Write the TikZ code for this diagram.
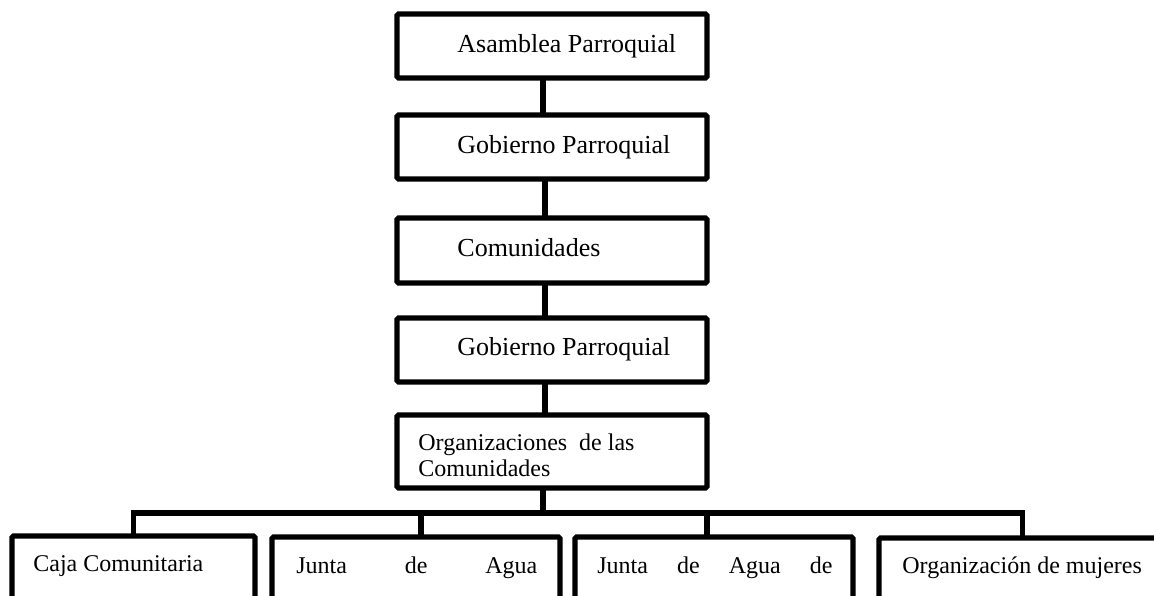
\documentclass[tikz,border=0pt]{standalone}
\usepackage{fontspec}
\setmainfont{Liberation Serif}
\usetikzlibrary{positioning}

\begin{document}
\begin{tikzpicture}[x=0.5pt,y=-0.5pt,
    recuadro/.style={draw, line width=2.6pt, rounded corners=0.8pt, inner sep=0pt, outer sep=0pt,
        anchor=north west, minimum width=155pt},
    unidad/.style={draw, line width=2.6pt, rounded corners=0.8pt, inner sep=0pt, outer sep=0pt,
        anchor=north west, minimum height=45pt},
    rotulo/.style={inner sep=0pt, anchor=base west, font=\fontsize{13}{15.6}\selectfont},
    rotulochico/.style={inner sep=0pt, anchor=base west, font=\fontsize{12}{13}\selectfont},
    enlace/.style={line width=2.6pt}]

    % page frame
    \useasboundingbox (0,0) rectangle (1154,595);
    \clip (0,0) rectangle (1154,595);

    % Main chain, top to bottom
    \node[recuadro, minimum height=32pt] (asamblea) at (397,14) {};
    \node[rotulo] (asambleaT) at ([shift={(60,38)}]asamblea.north west) {Asamblea Parroquial};

    \node[recuadro, minimum height=32pt] (gobierno) at (397,115) {};
    \node[rotulo] (gobiernoT) at ([shift={(60,38)}]gobierno.north west) {Gobierno Parroquial};

    \node[recuadro, minimum height=32.5pt] (comunidades) at (397,218) {};
    \node[rotulo] (comunidadesT) at ([shift={(60,38)}]comunidades.north west) {Comunidades};

    \node[recuadro, minimum height=32pt] (gobiernoB) at (397,318) {};
    \node[rotulo] (gobiernoBT) at ([shift={(60,37)}]gobiernoB.north west) {Gobierno Parroquial};

    \node[recuadro, minimum height=36.5pt] (organizaciones) at (397,415) {};
    \node[rotulochico, anchor=north west, align=left] (organizacionesT)
        at ([shift={(21,18)}]organizaciones.north west) {Organizaciones\ \ de las\\Comunidades};

    % links of the chain
    \draw[enlace] ([xshift=-4.5pt]asamblea.south) -- ([xshift=-4.5pt]gobierno.north);
    \draw[enlace] ([xshift=-3.5pt]gobierno.south) -- ([xshift=-3.5pt]comunidades.north);
    \draw[enlace] ([xshift=-3.5pt]comunidades.south) -- ([xshift=-3.5pt]gobiernoB.north);
    \draw[enlace] ([xshift=-3.5pt]gobiernoB.south) -- ([xshift=-3.5pt]organizaciones.north);

    % Organizations of the communities (cut at the page bottom)
    \node[unidad, minimum width=121.5pt] (caja) at (12,536) {};
    \node[rotulochico] (cajaT) at ([shift={(21,35)}]caja.north west) {Caja Comunitaria};

    \node[unidad, minimum width=144pt] (juntaA) at (272,537) {};
    \node[rotulochico] (juntaAT) at ([shift={(24,36)}]juntaA.north west)
        {\hbox to 120.5pt{Junta\hfill de\hfill Agua}};

    \node[unidad, minimum width=139pt] (juntaB) at (575,537) {};
    \node[rotulochico] (juntaBT) at ([shift={(22,36)}]juntaB.north west)
        {\hbox to 117.5pt{Junta\hfill de\hfill Agua\hfill de}};

    \node[unidad, minimum width=143.5pt] (mujeres) at (879,538) {};
    \node[rotulochico] (mujeresT) at ([shift={(23,35)}]mujeres.north west) {Organización de mujeres};

    % branching bar
    \coordinate (barra) at (0,513);
    \draw[enlace] ([xshift=-4.5pt]organizaciones.south) -- ([xshift=-4.5pt]organizaciones.south |- barra);
    \draw[enlace] (caja.north) -- (caja.north |- barra) -- (mujeres.north |- barra) -- (mujeres.north);
    \draw[enlace] ([xshift=2.5pt]juntaA.north |- barra) -- ([xshift=2.5pt]juntaA.north);
    \draw[enlace] ([xshift=-3.5pt]juntaB.north |- barra) -- ([xshift=-3.5pt]juntaB.north);
\end{tikzpicture}
\end{document}
